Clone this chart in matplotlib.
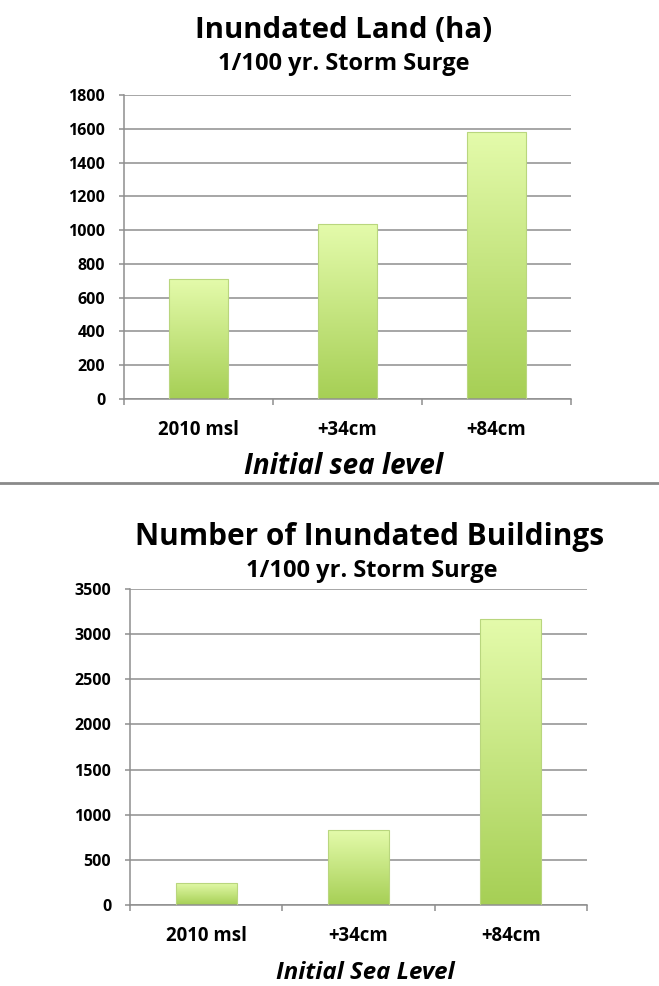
import numpy as np
import matplotlib
matplotlib.use("Agg")
import matplotlib.pyplot as plt
from matplotlib.colors import LinearSegmentedColormap
from matplotlib.lines import Line2D

plt.rcParams['font.family'] = ['Open Sans', 'DejaVu Sans']

W, H = 659, 986

categories = ['2010 msl', '+34cm', '+84cm']
land_ha = [710, 1035, 1580]
buildings = [245, 830, 3165]

land_ticks = [0, 200, 400, 600, 800, 1000, 1200, 1400, 1600, 1800]
bldg_ticks = [0, 500, 1000, 1500, 2000, 2500, 3000, 3500]

GRID = '#8e8e8e'
WEIGHT = 'bold'
green = LinearSegmentedColormap.from_list('bar_green', ['#a6cf55', '#e4fbab'])


def rect(l, t, r, b):
    # pixel box (left, top, right, bottom) -> figure fraction
    return [l / W, 1 - b / H, (r - l) / W, (b - t) / H]


def label(x, y, s, size, style='normal'):
    # text placed by its baseline, in pixels from the top-left corner
    fig.text(x / W, 1 - y / H, s, fontsize=size, fontweight=WEIGHT,
             fontstyle=style, ha='center', va='baseline')


def draw_panel(ax, values, ticks):
    x = np.arange(len(values))
    bars = ax.bar(x, values, width=0.4, color='none', edgecolor='#b9d67e',
                  linewidth=0.8, zorder=3)
    grad = np.linspace(0, 1, 256).reshape(-1, 1)
    for b in bars:
        x0, w, h = b.get_x(), b.get_width(), b.get_height()
        im = ax.imshow(grad, cmap=green, origin='lower', aspect='auto',
                       extent=[x0, x0 + w, 0, h], zorder=2)
        im.set_clip_path(b)

    ax.set_xlim(-0.5, len(values) - 0.5)
    ax.set_ylim(0, ticks[-1])
    ax.set_yticks(ticks)
    ax.set_yticklabels([str(t) for t in ticks], fontsize=11.5, fontweight=WEIGHT)
    ax.yaxis.grid(True, color=GRID, linewidth=1.1, zorder=1)
    ax.set_axisbelow(True)

    ax.set_xticks(x)
    ax.set_xticklabels(categories, fontsize=13.4, fontweight=WEIGHT)
    ax.set_xticks(np.arange(len(values) + 1) - 0.5, minor=True)
    ax.tick_params(axis='x', which='major', length=0, pad=15)
    ax.tick_params(axis='x', which='minor', length=4.5, color=GRID, width=1.1)
    ax.tick_params(axis='y', length=3.5, color=GRID, width=1.1, pad=10)

    for side in ('top', 'right'):
        ax.spines[side].set_visible(False)
    for side in ('left', 'bottom'):
        ax.spines[side].set_color(GRID)
        ax.spines[side].set_linewidth(1.1)


fig = plt.figure(figsize=(W / 100, H / 100), dpi=100)

ax1 = fig.add_axes(rect(124, 95, 571, 399))
draw_panel(ax1, land_ha, land_ticks)

ax2 = fig.add_axes(rect(130, 589, 587, 905))
draw_panel(ax2, buildings, bldg_ticks)

label(344, 38, 'Inundated Land (ha)', 21.2)
label(344, 70, '1/100 yr. Storm Surge', 17)
label(344, 474, 'Initial sea level', 20, 'italic')

label(370, 545, 'Number of Inundated Buildings', 21.4)
label(372, 577, '1/100 yr. Storm Surge', 17)
label(365, 979, 'Initial Sea Level', 17.3, 'italic')

# divider between the two charts
fig.add_artist(Line2D([0, 1], [1 - 483 / H] * 2, color='#8a8a8a',
                      linewidth=2.0, transform=fig.transFigure))

fig.savefig('out.png', dpi=100)
